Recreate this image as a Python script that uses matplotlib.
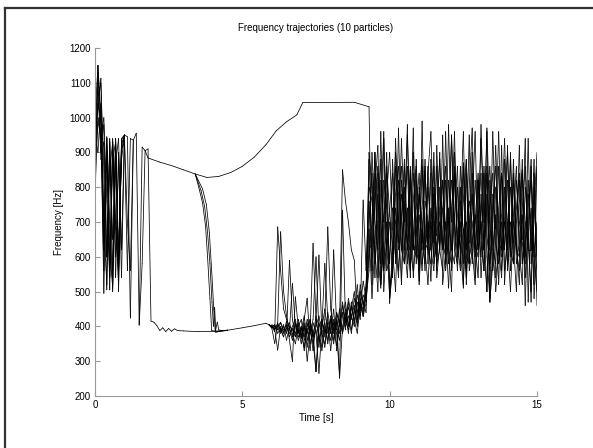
# plot.py
# Частотные траектории 10 частиц (стиль MATLAB), сохраняет out.png

import numpy as np
import matplotlib
matplotlib.use("Agg")
import matplotlib.pyplot as plt
from matplotlib.lines import Line2D
from matplotlib.collections import LineCollection

plt.rcParams["font.family"] = ["Liberation Sans", "DejaVu Sans"]

# --- начальный шум, шаг 0.1 с от t=0 (частицы 0-3 до 1.7 с, 4-9 до 1.8 с)
EARLY = [
    [810, 1150, 1010, 640, 940, 560, 925, 600, 880, 540, 950, 945, 424, 935, 955, 404, 915, 905],
    [960, 1020, 1113, 700, 520, 930, 650, 940, 560, 905, 950, 945, 424, 935, 955, 404, 915, 905],
    [870, 990, 940, 1000, 760, 545, 931, 700, 520, 940, 950, 945, 424, 935, 955, 404, 915, 905],
    [1000, 1080, 900, 980, 600, 940, 500, 870, 940, 620, 950, 945, 424, 935, 955, 404, 915, 905],
    [900, 1130, 980, 495, 945, 620, 510, 935, 600, 920, 950, 945, 424, 935, 955, 404, 915, 905, 910],
    [840, 1060, 1100, 850, 505, 930, 560, 900, 500, 935, 950, 945, 424, 935, 955, 404, 915, 905, 910],
    [950, 900, 1040, 620, 900, 505, 940, 680, 560, 910, 930, 560, 940, 935, 955, 404, 580, 905, 910],
    [780, 1000, 960, 560, 940, 700, 520, 940, 610, 880, 950, 945, 424, 935, 955, 404, 915, 905, 910],
    [1000, 1150, 880, 930, 600, 850, 930, 540, 900, 620, 950, 945, 424, 935, 955, 404, 915, 905, 910],
    [920, 1040, 1000, 700, 920, 540, 880, 930, 560, 930, 940, 700, 560, 935, 955, 404, 915, 905, 910],
]

# --- верхняя дуга и плато
ARC_T = [1.8, 2.2, 2.6, 3.0, 3.4, 3.8, 4.2, 4.6, 5.0, 5.4, 5.8, 6.15, 6.5, 6.85, 7.05, 8.8, 9.3]
ARC_F = [884, 872, 862, 850, 838, 828, 831, 842, 860, 886, 922, 962, 988, 1008, 1043, 1044, 1031]

# --- срывы с дуги вниз (частицы 1-3)
DROP_T = [
    [3.55, 3.65, 3.75, 3.82, 3.9, 3.96, 4.1, 4.3],
    [3.6, 3.72, 3.82, 3.9, 3.97, 4.02, 4.06, 4.1, 4.3],
    [3.65, 3.78, 3.88, 3.96, 4.03, 4.08, 4.15, 4.2, 4.3],
]
DROP_F = [
    [790, 755, 690, 600, 480, 388, 385, 386],
    [790, 745, 670, 580, 470, 400, 455, 383, 387],
    [795, 750, 670, 560, 450, 385, 412, 390, 388],
]

# --- нижняя дорожка
LOW_T = [1.9, 2.0, 2.1, 2.2, 2.3, 2.4, 2.5, 2.6, 2.7, 2.8, 3.0, 3.5, 4.0, 4.5, 5.0, 5.4, 5.8, 5.9]
LOW_F = [415, 412, 402, 388, 396, 385, 394, 386, 393, 388, 387, 385, 386, 389, 396, 402, 409, 405]

# --- средний шум, t = 6.0 .. 9.3 (частицы 1-9)
MIDDLE = [
    [400, 385, 686, 560, 450, 420, 395, 370, 410, 388, 365, 402, 340, 410, 372, 430, 355,
     395, 450, 380, 420, 360, 440, 400, 470, 410, 455, 420, 480, 440, 500, 460, 520, 700],
    [395, 351, 410, 672, 500, 430, 390, 524, 400, 360, 395, 330, 410, 380, 639, 420, 370,
     330, 400, 350, 430, 390, 345, 420, 380, 450, 400, 470, 420, 380, 460, 430, 500, 620],
    [402, 390, 332, 400, 380, 415, 360, 299, 485, 395, 370, 420, 481, 350, 390, 270, 410,
     380, 340, 420, 380, 450, 330, 410, 440, 390, 480, 430, 400, 470, 420, 763, 560, 800],
    [398, 405, 380, 395, 370, 400, 410, 380, 350, 400, 420, 360, 395, 330, 410, 380, 265,
     400, 581, 420, 380, 620, 400, 360, 430, 470, 400, 450, 500, 420, 480, 428, 470, 880],
    [400, 390, 410, 385, 400, 380, 590, 420, 370, 390, 350, 410, 300, 380, 420, 600, 380,
     340, 420, 686, 450, 380, 420, 251, 400, 440, 380, 460, 410, 490, 450, 530, 480, 560],
    [396, 402, 390, 410, 385, 395, 380, 400, 420, 370, 390, 430, 360, 400, 330, 420, 605,
     380, 350, 410, 330, 420, 380, 260, 734, 420, 390, 430, 460, 400, 470, 440, 500, 760],
    [398, 395, 405, 390, 370, 400, 390, 360, 410, 380, 400, 370, 420, 390, 350, 400, 430,
     380, 410, 360, 420, 390, 440, 410, 850, 760, 700, 620, 590, 420, 470, 450, 510, 900],
    [405, 400, 395, 380, 405, 360, 400, 390, 370, 420, 380, 340, 400, 420, 370, 390, 340,
     420, 380, 400, 360, 410, 390, 450, 380, 420, 470, 390, 440, 520, 430, 490, 470, 600],
    [400, 392, 400, 412, 390, 405, 370, 395, 380, 410, 370, 395, 380, 420, 360, 270, 400,
     420, 370, 440, 390, 350, 420, 380, 460, 400, 430, 380, 450, 410, 520, 470, 440, 680],
]

# --- поздний шум, t = 9.4 .. 15.0 (все частицы)
LATE = [
    [520, 760, 860, 640, 560, 780, 900, 680, 600, 820, 720, 580, 690, 850, 640, 600, 800, 700, 560, 840,
     960, 650, 600, 740, 820, 580, 700, 950, 620, 580, 760, 680, 540, 800, 970, 640, 600, 720, 840, 600,
     480, 780, 680, 960, 600, 640, 820, 560, 720, 860, 620, 520, 800, 680, 470, 840, 620],
    [840, 580, 700, 880, 500, 650, 480, 600, 940, 700, 520, 860, 640, 560, 760, 860, 520, 680, 580, 800,
     680, 900, 540, 640, 820, 680, 510, 740, 840, 620, 660, 870, 520, 700, 780, 600, 650, 940, 700, 500,
     820, 620, 720, 520, 840, 700, 620, 900, 640, 500, 760, 850, 540, 680, 880, 480, 640],
    [640, 900, 700, 520, 820, 740, 580, 880, 640, 540, 780, 700, 980, 580, 650, 820, 560, 740, 860, 620,
     580, 800, 700, 620, 950, 560, 660, 820, 700, 600, 860, 640, 560, 760, 700, 620, 820, 540, 690, 960,
     470, 580, 800, 700, 560, 760, 900, 620, 580, 820, 700, 650, 940, 470, 740, 600, 500],
    [760, 620, 500, 820, 700, 900, 480, 560, 780, 860, 620, 580, 950, 700, 620, 740, 840, 580, 640, 860,
     620, 560, 740, 880, 640, 600, 980, 620, 580, 800, 620, 760, 880, 560, 620, 820, 700, 600, 860, 660,
     580, 700, 920, 620, 540, 800, 700, 620, 840, 580, 640, 880, 460, 740, 820, 600, 700],
    [600, 840, 540, 740, 960, 620, 700, 540, 860, 640, 940, 700, 580, 820, 620, 880, 660, 560, 760, 700,
     620, 860, 560, 800, 620, 700, 580, 950, 680, 560, 720, 960, 600, 580, 840, 640, 540, 780, 620, 970,
     700, 560, 640, 860, 620, 700, 580, 800, 700, 620, 920, 580, 700, 620, 860, 640, 560],
    [900, 700, 620, 960, 580, 700, 520, 560, 740, 620, 820, 640, 540, 720, 900, 620, 580, 860, 640, 620,
     740, 640, 860, 620, 560, 820, 700, 620, 900, 640, 560, 860, 640, 580, 740, 960, 620, 700, 560, 780,
     470, 620, 580, 740, 840, 560, 640, 880, 580, 700, 820, 640, 580, 940, 580, 700, 860],
    [560, 800, 920, 520, 640, 860, 720, 620, 500, 780, 860, 620, 740, 540, 840, 700, 530, 990, 620, 700,
     530, 780, 660, 900, 520, 620, 740, 560, 860, 720, 620, 510, 880, 700, 620, 520, 700, 840, 620, 500,
     740, 840, 540, 620, 920, 520, 700, 620, 880, 640, 520, 740, 860, 640, 500, 800, 600],
    [800, 540, 840, 700, 560, 640, 740, 840, 580, 970, 620, 740, 860, 620, 560, 700, 780, 620, 880, 580,
     840, 580, 640, 700, 620, 960, 620, 580, 720, 860, 580, 680, 620, 950, 580, 700, 840, 640, 560, 860,
     620, 960, 640, 580, 700, 620, 920, 600, 820, 620, 560, 840, 700, 620, 620, 740, 900],
    [700, 900, 600, 510, 700, 840, 466, 640, 900, 700, 520, 800, 620, 860, 540, 660, 760, 880, 620, 520,
     700, 600, 920, 620, 740, 860, 620, 500, 840, 640, 800, 520, 700, 640, 900, 540, 820, 700, 620, 740,
     860, 640, 500, 620, 720, 940, 640, 500, 700, 620, 600, 720, 600, 820, 620, 880, 460],
    [480, 640, 780, 580, 940, 560, 600, 740, 700, 560, 700, 880, 640, 620, 970, 580, 720, 640, 840, 640,
     880, 700, 580, 620, 740, 620, 820, 700, 960, 620, 700, 580, 840, 600, 640, 720, 620, 980, 700, 840,
     560, 740, 860, 640, 620, 880, 560, 700, 640, 740, 840, 580, 640, 780, 700, 520, 860],
]

T_MID = np.round(6.0 + 0.1 * np.arange(len(MIDDLE[0])), 1)
T_LATE = np.round(9.4 + 0.1 * np.arange(len(LATE[0])), 1)


def particle(i):
    t_e = list(np.round(0.1 * np.arange(len(EARLY[i])), 1))
    f_e = list(EARLY[i])
    if i == 0:
        t = t_e + ARC_T
        f = f_e + ARC_F
    else:
        if i <= 3:
            # по дуге до 3.4 с, затем срыв на нижнюю дорожку
            k = i - 1
            t_mid = [x for x in ARC_T if x <= 3.4] + DROP_T[k]
            f_mid = [y for x, y in zip(ARC_T, ARC_F) if x <= 3.4] + DROP_F[k]
            t_mid += [x for x in LOW_T if x >= 4.5]
            f_mid += [y for x, y in zip(LOW_T, LOW_F) if x >= 4.5]
        else:
            t_mid = list(LOW_T)
            f_mid = list(LOW_F)
        t = t_e + t_mid + list(T_MID)
        f = f_e + f_mid + MIDDLE[i - 1]
    t = t + list(T_LATE)
    f = f + LATE[i]
    return t, f


def main():
    fig = plt.figure(figsize=(5.93, 4.48), dpi=100)
    fig.patch.set_facecolor("white")

    # рамка окна (сверху и слева)
    W, H = 593.0, 448.0
    fig.add_artist(Line2D([4.5 / W, 4.5 / W], [0, 1 - 8.5 / H], color="#333333", lw=1.6))
    fig.add_artist(Line2D([4.5 / W, 1], [1 - 8.5 / H, 1 - 8.5 / H], color="#333333", lw=1.6))

    ax = fig.add_axes([95 / W, 1 - 396 / H, 442 / W, 348 / H])

    # совпадающие куски траекторий (копии частиц) рисуем один раз
    seen = set()
    segs = []
    for i in range(len(EARLY)):
        t, f = particle(i)
        pts = [(float(a), float(b)) for a, b in zip(t, f)]
        for p, q in zip(pts[:-1], pts[1:]):
            if (p, q) not in seen:
                seen.add((p, q))
                segs.append([p, q])
    ax.add_collection(LineCollection(segs, colors="black", linewidths=0.55,
                                     capstyle="round"))

    ax.set_xlim(0, 15)
    ax.set_ylim(200, 1200)
    ax.set_xticks([0, 5, 10, 15])
    ax.set_yticks(np.arange(200, 1201, 100))
    ax.spines["top"].set_visible(False)
    ax.spines["right"].set_visible(False)
    for s in ("left", "bottom"):
        ax.spines[s].set_color("#999999")
        ax.spines[s].set_linewidth(0.8)
    ax.tick_params(direction="in", length=3.5, width=0.8, color="#999999",
                   labelsize=7, pad=3, labelcolor="black")

    ax.set_title("Frequency trajectories (10 particles)", fontsize=7, pad=12)
    ax.set_xlabel("Time [s]", fontsize=7, labelpad=2)
    ax.set_ylabel("Frequency [Hz]", fontsize=7, labelpad=4)

    fig.savefig("out.png", dpi=100)


if __name__ == "__main__":
    main()
